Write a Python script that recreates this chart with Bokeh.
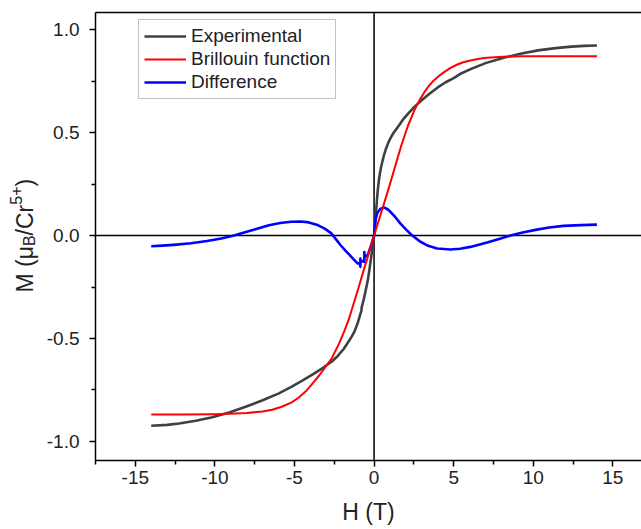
from bokeh.plotting import figure
from bokeh.layouts import row
from bokeh.models import (Range1d, Span, Legend, LegendItem, LinearAxis, FixedTicker)
from bokeh.core.properties import value
from bokeh.embed import file_html
from bokeh.resources import INLINE

# ---- data ----
exp_h = [-14.0, -13.0, -12.25, -11.2, -10.16, -9.1, -8.07, -7.0, -5.98, -5.2, -4.51, -3.8,
         -3.26, -2.65, -2.28, -1.9, -1.62, -1.4, -1.24, -1.05, -0.95, -0.85, -0.80, -0.78,
         -0.65, -0.55, -0.4, -0.3, -0.2, -0.1, 0.0,
         0.05, 0.13, 0.23, 0.33, 0.44, 0.6, 0.75, 0.9, 1.07, 1.25, 1.49, 1.8, 2.11, 2.5, 2.95,
         3.5, 4.0, 4.5, 5.0, 5.5, 6.1, 7.0, 8.2, 9.2, 10.3, 11.4, 12.4, 13.2, 14.0]
exp_m = [-0.924, -0.920, -0.913, -0.900, -0.883, -0.860, -0.832, -0.800, -0.767, -0.735, -0.705,
         -0.672, -0.645, -0.612, -0.585, -0.550, -0.517, -0.490, -0.468, -0.430, -0.405, -0.378,
         -0.368, -0.350, -0.310, -0.275, -0.220, -0.170, -0.115, -0.058, 0.0,
         0.050, 0.123, 0.220, 0.285, 0.333, 0.385, 0.422, 0.453, 0.479, 0.502, 0.527, 0.562,
         0.590, 0.623, 0.655, 0.690, 0.720, 0.745, 0.765, 0.789, 0.810, 0.838, 0.865, 0.884,
         0.900, 0.911, 0.918, 0.922, 0.924]

bril_h = [-14.0, -12.0, -10.0, -9.1, -8.0, -7.0, -6.4, -5.8, -5.2, -4.75, -4.3, -3.9, -3.45,
          -3.05, -2.65, -2.2, -1.9, -1.6, -1.3, -0.96, -0.7, -0.44, -0.2, 0.0,
          0.44, 0.86, 1.28, 1.7, 2.11, 2.55, 2.85, 3.16, 3.45, 3.75, 4.1, 4.4, 4.8, 5.2, 5.6,
          6.05, 6.6, 7.1, 8.1, 9.2, 11.0, 14.0]
bril_m = [-0.870, -0.870, -0.868, -0.866, -0.862, -0.855, -0.846, -0.832, -0.812, -0.788,
          -0.758, -0.722, -0.680, -0.638, -0.595, -0.525, -0.470, -0.410, -0.335, -0.250,
          -0.180, -0.115, -0.050, 0.0,
          0.110, 0.215, 0.325, 0.435, 0.530, 0.612, 0.657, 0.697, 0.728, 0.754, 0.777, 0.794,
          0.815, 0.830, 0.842, 0.851, 0.859, 0.864, 0.869, 0.871, 0.872, 0.872]

diff_h = [-14.0, -13.3, -12.6, -11.5, -10.5, -9.6, -8.8, -8.0, -7.35, -6.6, -5.9, -5.2, -4.6,
          -4.1, -3.6, -3.1, -2.7, -2.4, -2.1, -1.8, -1.5, -1.25, -1.02, -0.9,
          -0.86, -0.86, -0.85, -0.7, -0.61, -0.61, -0.6, -0.4, -0.2, 0.0,
          0.1, 0.2, 0.4, 0.65, 0.85, 1.03, 1.35, 1.66, 2.0, 2.4, 2.91, 3.4, 3.96, 4.8, 5.4,
          6.05, 7.1, 7.8, 8.56, 9.4, 10.23, 11.0, 11.9, 13.0, 14.0]
diff_m = [-0.052, -0.049, -0.045, -0.037, -0.026, -0.014, 0.0, 0.018, 0.033, 0.050, 0.061,
          0.067, 0.068, 0.064, 0.053, 0.034, 0.012, -0.017, -0.047, -0.073, -0.097, -0.118,
          -0.136, -0.133,
          -0.152, -0.112, -0.128, -0.124, -0.128, -0.080, -0.105, -0.095, -0.050, 0.0,
          0.080, 0.110, 0.130, 0.136, 0.128, 0.115, 0.088, 0.058, 0.030, 0.0, -0.030, -0.050,
          -0.063, -0.068, -0.064, -0.055, -0.034, -0.018, 0.0, 0.016, 0.029, 0.039, 0.047,
          0.051, 0.053]

x_ticks = [-15, -10, -5, 0, 5, 10, 15]
x_tick_labels = ["-15", "-10", "-5", "0", "5", "10", "15"]
y_ticks = [-1.0, -0.5, 0.0, 0.5, 1.0]
y_tick_labels = ["-1.0", "-0.5", "0.0", "0.5", "1.0"]
series_names = ["Experimental", "Brillouin function", "Difference"]
y_title_parts = ["M (\u03bc", "B", "/Cr", "5+", ")"]

FONT = "Liberation Sans"
X0, X1 = -17.5, 16.8
Y0, Y1 = -1.093, 1.084
W_TITLE = 43          # width of the strip holding the y-axis title
H = 529
TOP, BOTTOM = 12, 69  # borders of the main frame (strip frame is aligned to it)

# ---------------- main plot ----------------
p = figure(width=641 - W_TITLE, height=H, output_backend="svg", toolbar_location=None,
           x_range=Range1d(X0, X1), y_range=Range1d(Y0, Y1),
           min_border_left=95 - W_TITLE, min_border_right=0, min_border_top=TOP,
           min_border_bottom=BOTTOM)
p.outline_line_color = None
p.grid.visible = False
p.background_fill_color = "white"
p.border_fill_color = "white"

for dim in ("height", "width"):
    p.add_layout(Span(location=0, dimension=dim, line_color="black", line_width=1.5,
                      level="underlay"))

r_exp = p.line(exp_h, exp_m, line_color="#404040", line_width=2.6, line_join="round")
r_diff = p.line(diff_h, diff_m, line_color="#0000ff", line_width=2.6, line_join="round")
r_bril = p.line(bril_h, bril_m, line_color="#ff0000", line_width=2.0, line_join="round")

for ax in (p.xaxis[0], p.yaxis[0]):
    ax.axis_line_width = 1.5
    ax.axis_line_color = "black"
    ax.major_tick_line_width = 1.5
    ax.minor_tick_line_width = 1.5
    ax.major_tick_in = 0
    ax.major_tick_out = 6
    ax.minor_tick_in = 0
    ax.minor_tick_out = 4
    ax.major_label_text_font = FONT
    ax.major_label_text_font_size = "19px"
    ax.major_label_text_color = "#222222"

p.xaxis[0].ticker = FixedTicker(ticks=x_ticks, minor_ticks=[-17.5, -12.5, -7.5, -2.5, 2.5, 7.5, 12.5])
p.xaxis[0].major_label_overrides = {t: l for t, l in zip(x_ticks, x_tick_labels)}
p.xaxis[0].major_label_standoff = 4
p.xaxis[0].axis_label = "H (T)"
p.xaxis[0].axis_label_text_font = FONT
p.xaxis[0].axis_label_text_font_size = "23px"
p.xaxis[0].axis_label_text_font_style = "normal"
p.xaxis[0].axis_label_text_color = "#222222"
p.xaxis[0].axis_label_standoff = 12

p.yaxis[0].ticker = FixedTicker(ticks=y_ticks, minor_ticks=[-0.75, -0.25, 0.25, 0.75])
p.yaxis[0].major_label_overrides = {t: l for t, l in zip(y_ticks, y_tick_labels)}
p.yaxis[0].major_label_standoff = 10
p.yaxis[0].major_label_orientation = "horizontal"

top = LinearAxis(axis_line_width=1.5, axis_line_color="black", ticker=FixedTicker(ticks=[]),
                 major_tick_line_color=None, minor_tick_line_color=None)
p.add_layout(top, "above")

legend = Legend(items=[LegendItem(label=series_names[0], renderers=[r_exp]),
                       LegendItem(label=series_names[1], renderers=[r_bril]),
                       LegendItem(label=series_names[2], renderers=[r_diff])],
                location=(43, 361), label_text_font=FONT, label_text_font_size="19px",
                label_text_color="#222222", glyph_width=42, glyph_height=22, label_height=22,
                label_standoff=5, spacing=1, padding=5, margin=0,
                border_line_color="#888888", border_line_width=1, background_fill_alpha=1.0)
p.add_layout(legend)

# ---------------- y-axis title strip (data y = 529 - canvas y) ----------------
t = figure(width=W_TITLE, height=H, output_backend="svg", toolbar_location=None,
           x_range=Range1d(0, W_TITLE), y_range=Range1d(BOTTOM, H - TOP),
           x_axis_type=None, y_axis_type=None,
           min_border_left=0, min_border_right=0, min_border_top=TOP, min_border_bottom=BOTTOM)
t.outline_line_color = None
t.grid.visible = False
t.border_fill_color = "white"
t.background_fill_color = "white"

fs, ss = 23, 16
sizes = [fs, ss, fs, ss, fs]
shifts = [0, 4.5, 0, -9.0, 0]          # baseline shifts for sub/superscript
advances = [46.4, 10.7, 30.7, 18.2, 7.7]
base_x, start_y = 24.0, H - 292
pos = start_y
for txt, size, dx, adv in zip(y_title_parts, sizes, shifts, advances):
    t.text(x=[base_x + dx], y=[pos], text=[txt], angle=1.5707963,
           text_font=value(FONT), text_font_size=value(f"{size}px"),
           text_color="#222222", text_baseline="alphabetic", text_align="left")
    pos += adv

layout = row(t, p)
open("out.html", "w").write(file_html(layout, INLINE))
